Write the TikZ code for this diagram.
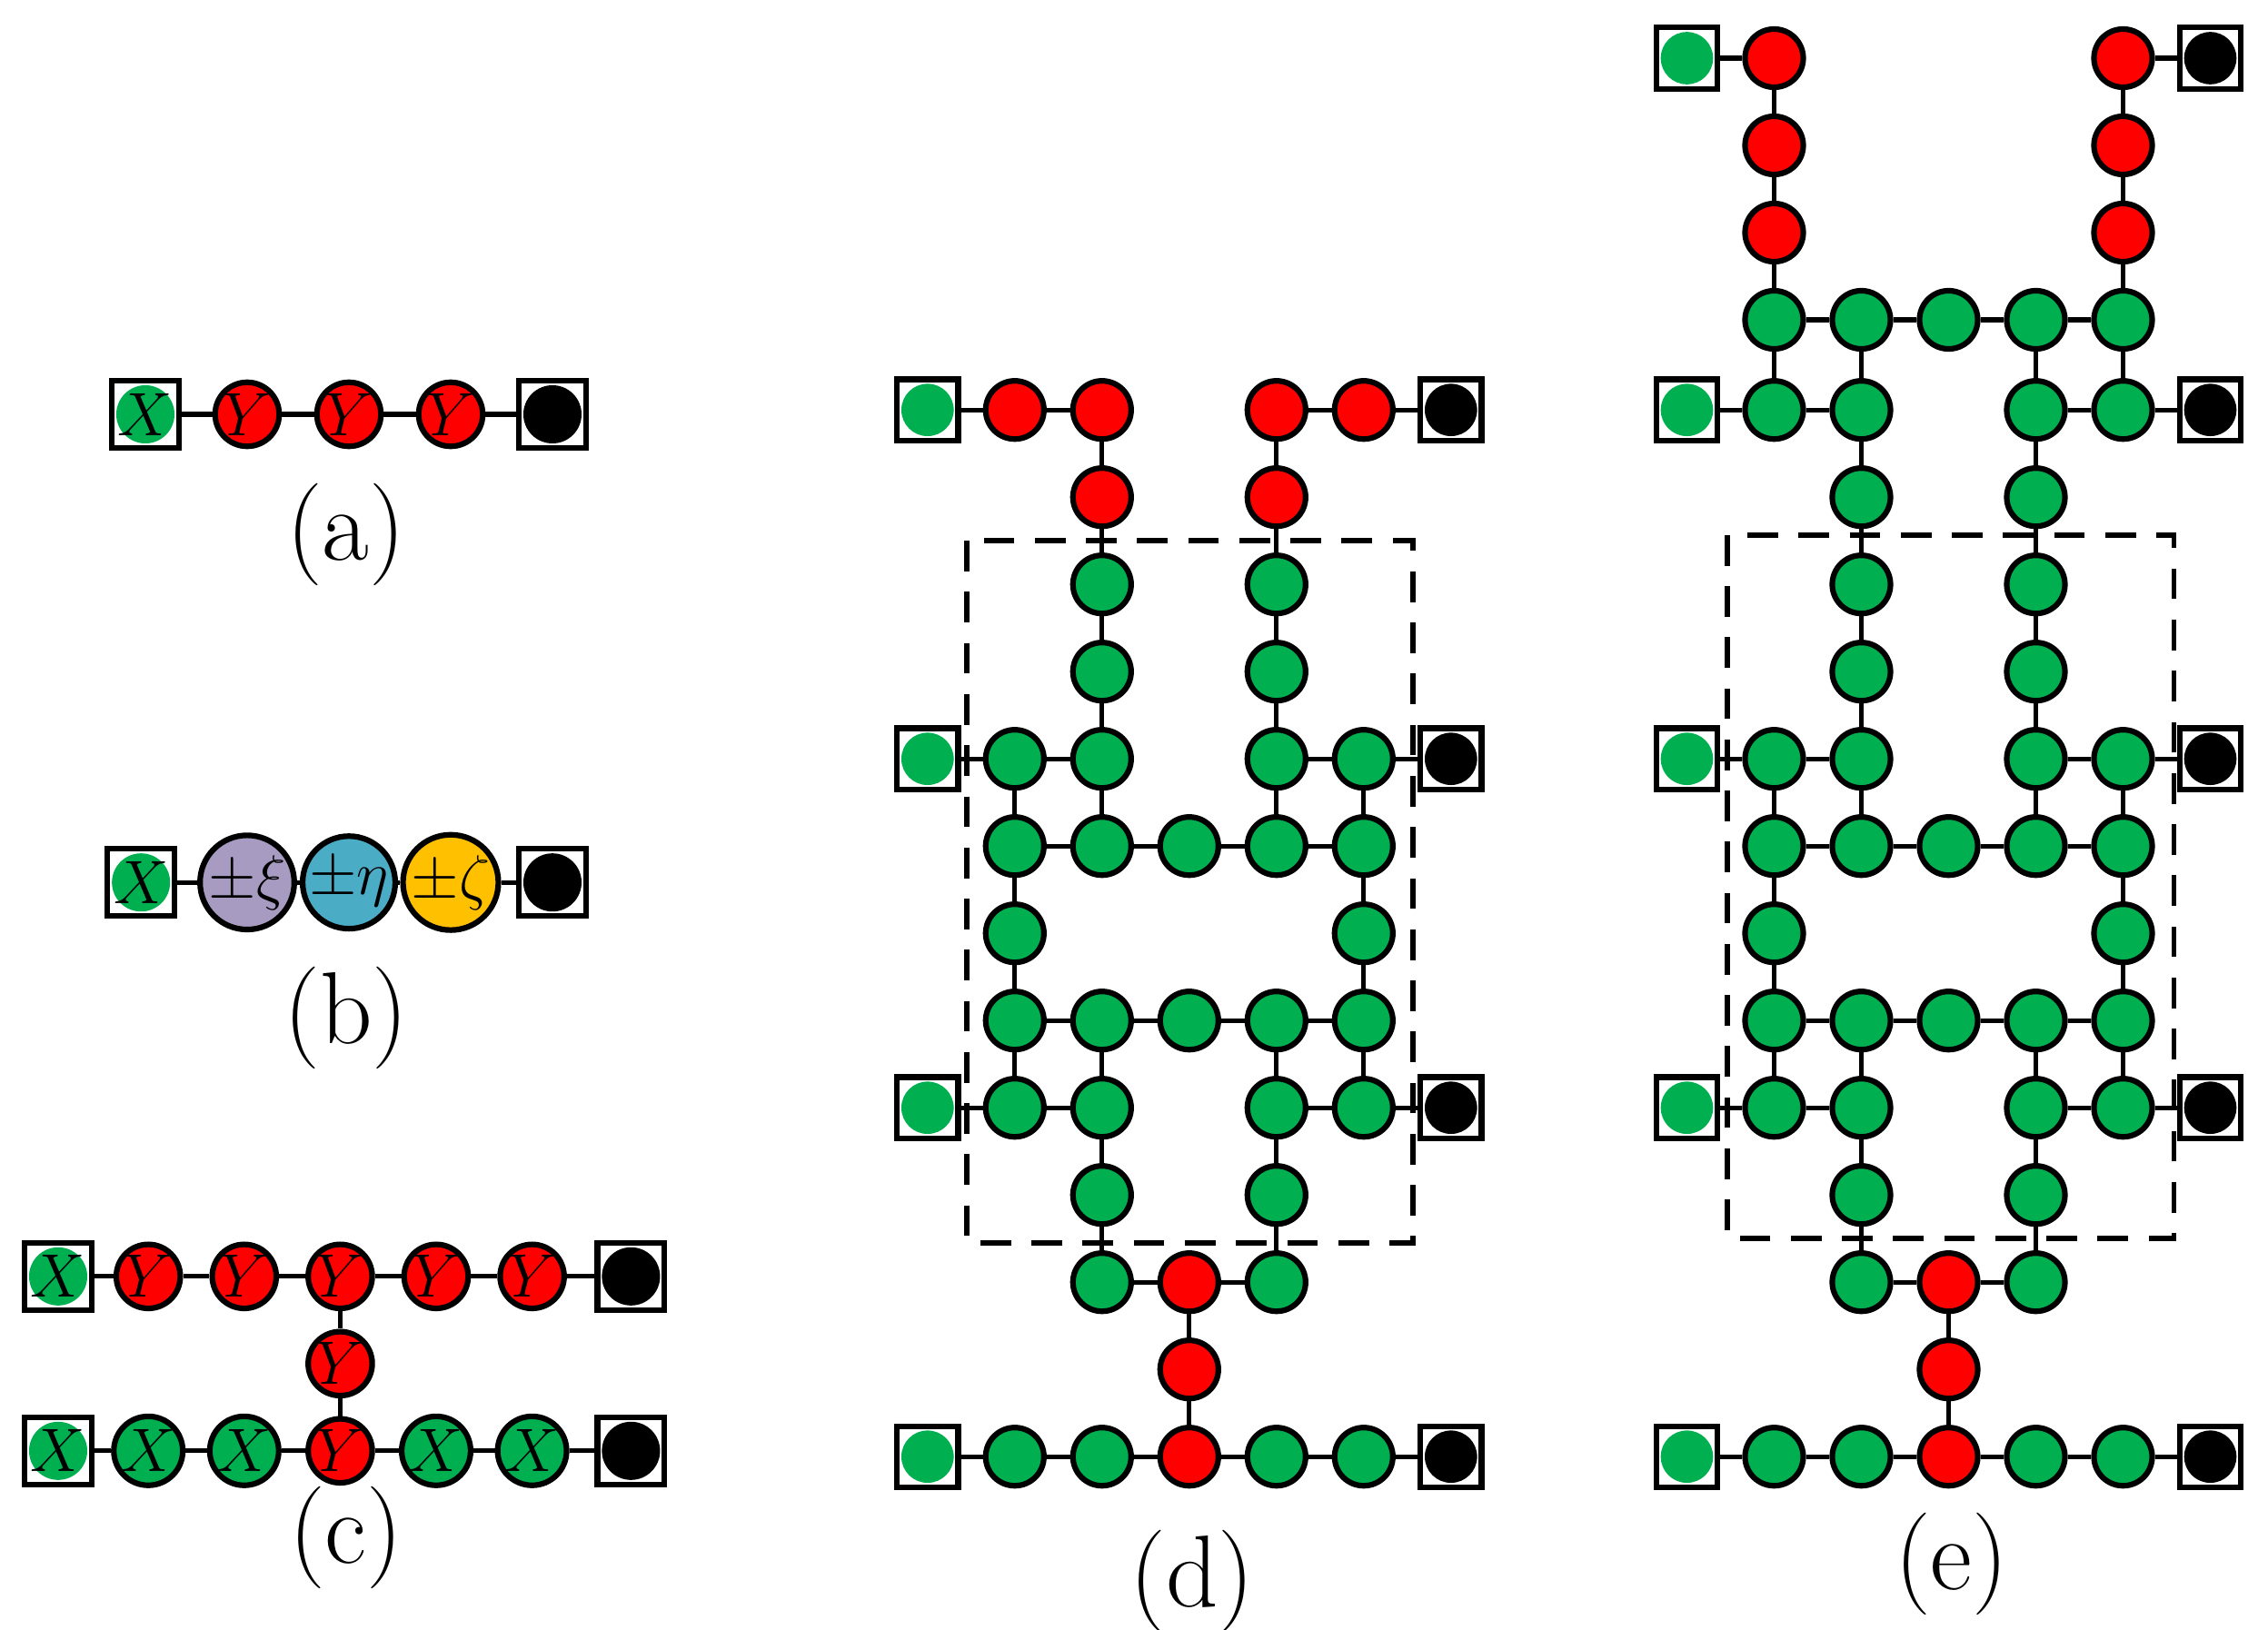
\documentclass[tikz,border=0pt]{standalone}
\usepackage{amssymb}
\definecolor{gr}{HTML}{00B050}
\definecolor{rd}{HTML}{FF0000}
\definecolor{pu}{HTML}{A89BC2}
\definecolor{bl}{HTML}{4BACC6}
\definecolor{ye}{HTML}{FFC000}
\tikzset{
 ci/.style={circle,draw,line width=1.1pt,minimum size=0.40cm,inner sep=0pt,font=\fontsize{12}{12}\selectfont},
 cb/.style={ci,minimum size=0.44cm},
 sq/.style={rectangle,draw,line width=1.1pt,minimum size=0.42cm,inner sep=0pt},
 sqb/.style={sq,minimum size=0.46cm},
 dot/.style={circle,fill=#1,minimum size=0.36cm,inner sep=0pt},
 edge/.style={line width=0.9pt},
 lab/.style={font=\fontsize{20}{24}\selectfont},
 box/.style={dashed,line width=1pt,dash pattern=on 6pt off 4pt}
}
\newcommand{\lowpart}[1]{%
 \foreach \x/\y/\c in {698/522/gr,758/522/gr,878/522/gr,938/522/gr,
  698/582/gr,758/582/gr,818/582/gr,878/582/gr,938/582/gr,698/642/gr,938/642/gr,
  698/702/gr,758/702/gr,818/702/gr,878/702/gr,938/702/gr,
  698/762/gr,758/762/gr,878/762/gr,938/762/gr,758/822/gr,878/822/gr,
  758/882/gr,818/882/rd,878/882/gr,818/942/rd,
  698/1002/gr,758/1002/gr,818/1002/rd,878/1002/gr,938/1002/gr}
  \node[ci,fill=\c] (#1\x n\y) at (\x,\y) {};
 \foreach \y in {522,762,1002}{
  \node[sq] (#1638n\y) at (638,\y) {};
  \node[dot=gr] at (638,\y) {};
  \node[sq] (#1998n\y) at (998,\y) {};
  \node[dot=black] at (998,\y) {};}
 \foreach \a/\b in {638n522/698n522,698n522/758n522,878n522/938n522,938n522/998n522,
  698n582/758n582,758n582/818n582,818n582/878n582,878n582/938n582,
  698n702/758n702,758n702/818n702,818n702/878n702,878n702/938n702,
  638n762/698n762,698n762/758n762,878n762/938n762,938n762/998n762,
  758n882/818n882,818n882/878n882,
  638n1002/698n1002,698n1002/758n1002,758n1002/818n1002,818n1002/878n1002,878n1002/938n1002,938n1002/998n1002,
  698n522/698n582,758n522/758n582,878n522/878n582,938n522/938n582,
  698n582/698n642,698n642/698n702,938n582/938n642,938n642/938n702,
  698n702/698n762,758n702/758n762,878n702/878n762,938n702/938n762,
  758n762/758n822,758n822/758n882,878n762/878n822,878n822/878n882,
  818n882/818n942,818n942/818n1002}
  \draw[edge] (#1\a) -- (#1\b);
}
\begin{document}
\begin{tikzpicture}[x=0.01cm,y=-0.01cm]
\useasboundingbox (0,0) rectangle (1560,1121);
% (a)
\node[sqb] (a1) at (100,285) {}; \node[dot=gr,minimum size=0.4cm] at (100,285) {};
\node[font=\fontsize{12}{12}\selectfont] at (100,285) {$X$};
\node[cb,fill=rd] (a2) at (170,285) {$Y$};
\node[cb,fill=rd] (a3) at (240,285) {$Y$};
\node[cb,fill=rd] (a4) at (310,285) {$Y$};
\node[sqb] (a5) at (380,285) {}; \node[dot=black,minimum size=0.4cm] at (380,285) {};
\draw[edge] (a1)--(a2) (a2)--(a3) (a3)--(a4) (a4)--(a5);
\node[lab] (la) at (238,368) {(a)};
% (b)
\node[sqb] (b1) at (97,607) {}; \node[dot=gr,minimum size=0.4cm] at (97,607) {};
\node[font=\fontsize{12}{12}\selectfont] at (97,607) {$X$};
\node[cb,fill=pu] (b2) at (170,607) {$\pm\xi$};
\node[cb,fill=bl] (b3) at (240,607) {$\pm\eta$};
\node[cb,fill=ye] (b4) at (310,607) {$\pm\zeta$};
\node[sqb] (b5) at (380,607) {}; \node[dot=black,minimum size=0.4cm] at (380,607) {};
\draw[edge] (b1)--(b2) (b2)--(b3) (b3)--(b4) (b4)--(b5);
\node[lab] (lb) at (238,700) {(b)};
% (c)
\foreach \r/\y in {t/878,b/998}{
 \node[sqb] (c\r1) at (40,\y) {}; \node[dot=gr,minimum size=0.4cm] at (40,\y) {};
 \node[font=\fontsize{12}{12}\selectfont] at (40,\y) {$X$};
 \node[sqb] (c\r7) at (434,\y) {}; \node[dot=black,minimum size=0.4cm] at (434,\y) {};}
\foreach \i/\x/\c/\t in {2/102/rd/Y,3/168/rd/Y,4/234/rd/Y,5/300/rd/Y,6/366/rd/Y}
 \node[cb,fill=\c] (ct\i) at (\x,878) {$\t$};
\foreach \i/\x/\c/\t in {2/102/gr/X,3/168/gr/X,4/234/rd/Y,5/300/gr/X,6/366/gr/X}
 \node[cb,fill=\c] (cb\i) at (\x,998) {$\t$};
\node[cb,fill=rd] (cm) at (234,938) {$Y$};
\foreach \r in {t,b}
 \foreach \i [count=\j from 2] in {1,...,6}
  \draw[edge] (c\r\i) -- (c\r\j);
\draw[edge] (ct4)--(cm) (cm)--(cb4);
\node[lab] (lc) at (238,1058) {(c)};
% (d)
\lowpart{d}
\foreach \x/\y/\c in {698/282/rd,758/282/rd,878/282/rd,938/282/rd,758/342/rd,878/342/rd,
 758/402/gr,878/402/gr,758/462/gr,878/462/gr}
 \node[ci,fill=\c] (d\x n\y) at (\x,\y) {};
\node[sq] (d638n282) at (638,282) {}; \node[dot=gr] at (638,282) {};
\node[sq] (d998n282) at (998,282) {}; \node[dot=black] at (998,282) {};
\foreach \a/\b in {638n282/698n282,698n282/758n282,878n282/938n282,938n282/998n282,
 758n282/758n342,758n342/758n402,758n402/758n462,758n462/758n522,
 878n282/878n342,878n342/878n402,878n402/878n462,878n462/878n522}
 \draw[edge] (d\a) -- (d\b);
\draw[box] (665,372) rectangle (972,855);
\node[lab] (ld) at (820,1088) {(d)};
% (e)
\begin{scope}[xshift=5.22cm]
\lowpart{e}
\foreach \x/\y/\c in {698/40/rd,938/40/rd,698/100/rd,938/100/rd,698/160/rd,938/160/rd,
 698/220/gr,758/220/gr,818/220/gr,878/220/gr,938/220/gr,
 698/282/gr,758/282/gr,878/282/gr,938/282/gr,
 758/342/gr,878/342/gr,758/402/gr,878/402/gr,758/462/gr,878/462/gr}
 \node[ci,fill=\c] (e\x n\y) at (\x,\y) {};
\foreach \y in {40,282}{
 \node[sq] (e638n\y) at (638,\y) {}; \node[dot=gr] at (638,\y) {};
 \node[sq] (e998n\y) at (998,\y) {}; \node[dot=black] at (998,\y) {};}
\foreach \a/\b in {638n40/698n40,938n40/998n40,
 698n40/698n100,698n100/698n160,698n160/698n220,938n40/938n100,938n100/938n160,938n160/938n220,
 698n220/758n220,758n220/818n220,818n220/878n220,878n220/938n220,
 698n220/698n282,758n220/758n282,878n220/878n282,938n220/938n282,
 638n282/698n282,698n282/758n282,878n282/938n282,938n282/998n282,
 758n282/758n342,758n342/758n402,758n402/758n462,758n462/758n522,
 878n282/878n342,878n342/878n402,878n402/878n462,878n462/878n522}
 \draw[edge] (e\a) -- (e\b);
\draw[box] (666,368) rectangle (973,852);
\node[lab] (le) at (820,1076) {(e)};
\end{scope}
\end{tikzpicture}
\end{document}
